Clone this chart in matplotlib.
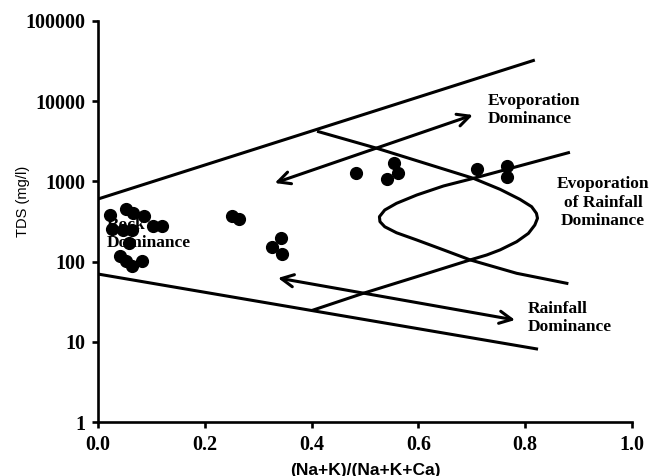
import numpy as np
import matplotlib
matplotlib.use('Agg')
import matplotlib.pyplot as plt
from matplotlib.ticker import FixedLocator, NullLocator

# samples
sample_ratio = [0.022, 0.052, 0.066, 0.086, 0.026, 0.047, 0.064, 0.103, 0.120,
                0.058, 0.041, 0.052, 0.064, 0.082,
                0.251, 0.264, 0.326, 0.343, 0.345,
                0.483, 0.541, 0.554, 0.562, 0.710, 0.766, 0.766]
sample_tds = [381, 453, 404, 370, 255, 248, 248, 278, 278,
              171, 117, 102, 88, 102,
              370, 340, 152, 197, 124,
              1270, 1070, 1700, 1270, 1430, 1560, 1135]

# Gibbs envelope
upper_x = [0.0, 0.818]
upper_tds = [603, 32600]
lower_x = [0.0, 0.824]
lower_tds = [70, 8.1]

# boomerang curves
curveA_x = [0.413, 0.522, 0.703, 0.753, 0.790, 0.812, 0.821, 0.823, 0.818, 0.806,
            0.784, 0.753, 0.728, 0.697, 0.597, 0.497, 0.403]
curveA_tds = [4170, 2590, 1092, 796, 598, 484, 400, 347, 286, 225,
              177, 140, 121, 105, 64.9, 40.3, 24.9]
curveB_x = [0.881, 0.703, 0.647, 0.597, 0.559, 0.537, 0.527, 0.528, 0.537, 0.559,
            0.597, 0.647, 0.697, 0.784, 0.878]
curveB_tds = [2280, 1092, 877, 677, 533, 440, 363, 315, 272, 229,
              186, 140, 105, 71.5, 53.6]

# double arrows
evap_arrow = [(0.331, 955), (0.702, 6730)]
rain_arrow = [(0.337, 62.5), (0.781, 18.7)]

yticks = [1, 10, 100, 1000, 10000, 100000]
xticks = [0.0, 0.2, 0.4, 0.6, 0.8, 1.0]

fig = plt.figure(figsize=(6.54, 4.76), dpi=100)
ax = fig.add_axes([0.1498, 0.1134, 0.8166, 0.8425])

lw = 2.2
ax.plot(upper_x, upper_tds, color='black', lw=lw, solid_capstyle='butt')
ax.plot(lower_x, lower_tds, color='black', lw=lw, solid_capstyle='butt')
ax.plot(curveA_x, curveA_tds, color='black', lw=lw, solid_joinstyle='round')
ax.plot(curveB_x, curveB_tds, color='black', lw=lw, solid_joinstyle='round')

for a, b in [evap_arrow, rain_arrow]:
    ax.annotate('', xy=b, xytext=a,
                arrowprops=dict(arrowstyle='<->', lw=lw, color='black',
                                mutation_scale=22, shrinkA=0, shrinkB=0))

tfont = dict(family='Liberation Serif', fontweight='bold', fontsize=12.5, color='black')
ax.text(0.017, 221, 'Rock\nDominance', ha='left', va='center', zorder=2, **tfont)
ax.text(0.730, 7770, 'Evoporation\nDominance', ha='left', va='center', **tfont)
ax.text(0.946, 540, 'Evoporation\nof Rainfall\nDominance', ha='center', va='center',
        multialignment='center', **tfont)
ax.text(0.805, 19.8, 'Rainfall\nDominance', ha='left', va='center', **tfont)

ax.scatter(sample_ratio, sample_tds, s=72, color='black', zorder=3)

ax.set_yscale('log')
ax.set_xlim(0, 1)
ax.set_ylim(1, 100000)
ax.yaxis.set_major_locator(FixedLocator(yticks))
ax.yaxis.set_minor_locator(NullLocator())
ax.set_yticklabels([str(t) for t in yticks])
ax.set_xticks(xticks)
ax.set_xticklabels(['%.1f' % t for t in xticks])

for lab in ax.get_xticklabels() + ax.get_yticklabels():
    lab.set_family('Liberation Serif')
    lab.set_fontweight('bold')
    lab.set_fontsize(14.5)

ax.spines['top'].set_visible(False)
ax.spines['right'].set_visible(False)
ax.spines['left'].set_linewidth(1.9)
ax.spines['bottom'].set_linewidth(1.9)
ax.tick_params(direction='out', length=4, width=1.9, pad=5)

ax.set_ylabel('TDS (mg/l)', family='Liberation Sans', fontsize=10.5)
ax.yaxis.set_label_coords(-0.128, 0.549)
ax.set_xlabel('(Na+K)/(Na+K+Ca)', family='Liberation Sans', fontweight='bold',
              fontsize=12.5, labelpad=6)

fig.savefig('out.png', dpi=100)
